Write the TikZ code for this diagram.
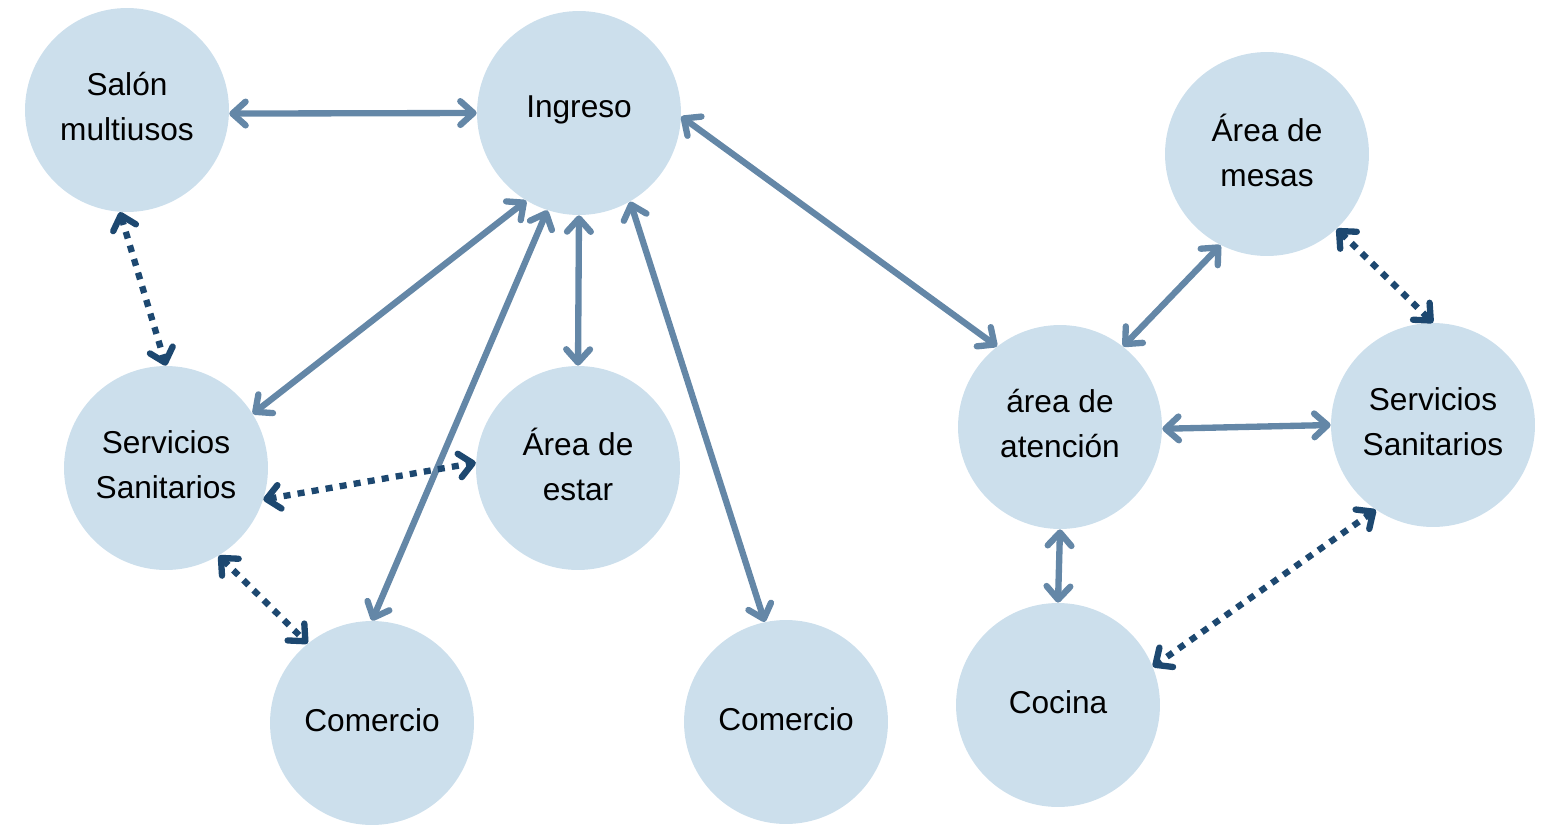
\documentclass[tikz,border=0pt]{standalone}
\usepackage{fontspec}
\setmainfont{Liberation Sans}
\usetikzlibrary{arrows.meta}
\definecolor{roomfill}{HTML}{CCDFEC}
\definecolor{linkblue}{HTML}{6487A7}
\definecolor{dotblue}{HTML}{1D4870}
\begin{document}
\begin{tikzpicture}[x=0.02cm, y=-0.02cm,
            room/.style={circle, fill=roomfill, minimum size=4.08cm, inner sep=0pt, text depth=3.8pt, align=center, font=\fontsize{18}{25.5}\selectfont},
            link/.style={draw=linkblue, line width=3.6pt, {Straight Barb[round,length=7.5pt,width=13.5pt]}-{Straight Barb[round,length=7.5pt,width=13.5pt]}},
            dotlink/.style={draw=dotblue, line width=3.6pt, dash pattern=on 4pt off 4.1pt, {Straight Barb[round,length=7.5pt,width=13.5pt]}-{Straight Barb[round,length=7.5pt,width=13.5pt]}}
            ]
            \useasboundingbox (0,0) rectangle (1555,825);
            \node[room] (salon) at (127,110) {Salón\\multiusos};
            \node[room, text depth=7.2pt] (ingreso) at (579,113) {Ingreso};
            \node[room] (sanl) at (166,468) {Servicios\\Sanitarios};
            \node[room] (estar) at (578,468) {Área de\\estar};
            \node[room] (comA) at (372,723) {Comercio};
            \node[room] (comB) at (786,722) {Comercio};
            \node[room] (atencion) at (1060,427) {área de\\atención};
            \node[room] (mesas) at (1267,154) {Área de\\mesas};
            \node[room] (sanr) at (1433,425) {Servicios\\Sanitarios};
            \node[room] (cocina) at (1058,705) {Cocina};

            \draw[link] (salon.-2)--(ingreso.180);
            \draw[link] (ingreso.-121)--(sanl.32);
            \draw[link] (ingreso.-108)--(comA.90);
            \draw[link] (ingreso.-90)--(estar.90);
            \draw[link] (ingreso.-60)--(comB.102);
            \draw[link] (ingreso.-2)--(atencion.128);
            \draw[link] (mesas.-117)--(atencion.52);
            \draw[link] (atencion.-1)--(sanr.180);
            \draw[link] (atencion.-90)--(cocina.90);

            \draw[dotlink] (salon.-94)--(sanl.90);
            \draw[dotlink] (sanl.-18)--(estar.177);
            \draw[dotlink] (sanl.-59)--(comA.129);
            \draw[dotlink] (mesas.-47)--(sanr.90);
            \draw[dotlink] (sanr.-124)--(cocina.22);
            
            \end{tikzpicture}
\end{document}
